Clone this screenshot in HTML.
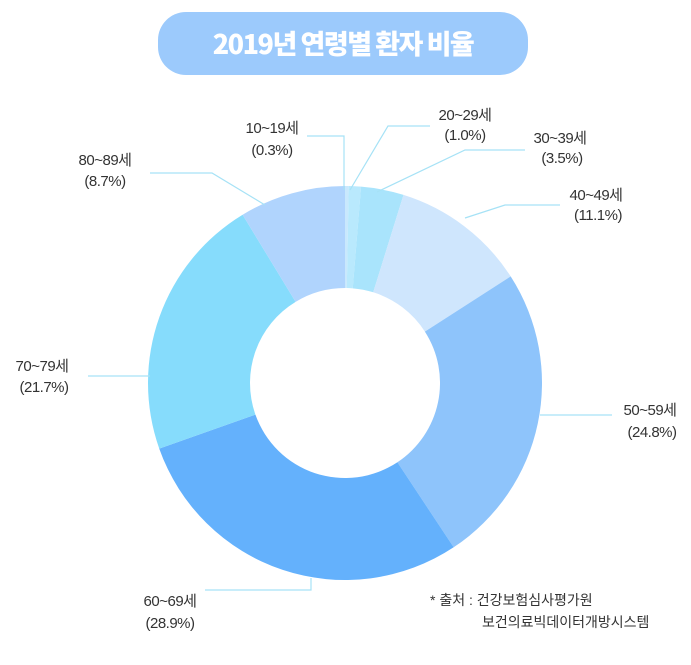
<!DOCTYPE html>
<html><head><meta charset="utf-8"><style>
body{margin:0;background:#fff;width:691px;height:660px;overflow:hidden;font-family:"Liberation Sans","Noto Sans CJK KR",sans-serif;}
</style></head><body>
<svg width="691" height="660" xmlns="http://www.w3.org/2000/svg" font-family="Liberation Sans, Noto Sans CJK KR, sans-serif">
<rect x="158" y="12" width="370" height="63" rx="28" fill="#9ccafc"/>
<text x="343" y="54" text-anchor="middle" font-size="27" font-weight="900" fill="#fff" font-family="Noto Sans CJK KR, sans-serif" letter-spacing="-1.5">2019년 연령별 환자 비율</text>
<g id="d"></g>
<g stroke="#a6e2f6" stroke-width="1.2" fill="none">
<polyline points="344,190 344,136 307,136"/>
<polyline points="350,190 388,126 430,126"/>
<polyline points="377,192 465,150 525,150"/>
<polyline points="465,218 505,205 560,205"/>
<polyline points="540,415 612,415"/>
<polyline points="311,578 311,590 205,590"/>
<polyline points="150,376 88,376"/>
<polyline points="265,205 212,173 150,173"/>
</g>
<g font-size="15" fill="#333" text-anchor="middle" letter-spacing="-0.5">
<text x="272" y="133">10~19세</text><text x="272" y="155">(0.3%)</text>
<text x="465" y="120">20~29세</text><text x="465" y="140">(1.0%)</text>
<text x="560" y="143">30~39세</text><text x="562" y="163">(3.5%)</text>
<text x="596" y="200">40~49세</text><text x="598" y="220">(11.1%)</text>
<text x="650" y="415">50~59세</text><text x="652" y="437">(24.8%)</text>
<text x="170" y="606">60~69세</text><text x="170" y="628">(28.9%)</text>
<text x="42" y="371">70~79세</text><text x="44" y="392">(21.7%)</text>
<text x="105" y="165">80~89세</text><text x="105" y="186">(8.7%)</text>
</g>
<g font-size="14" fill="#333">
<text x="430" y="605">* 출처 : 건강보험심사평가원</text>
<text x="482" y="627">보건의료빅데이터개방시스템</text>
</g>
</svg>
<script>
var cx=345,cy=383,R=197,r=95;
var d=[[0.3,"#c9e8fd"],[1.0,"#b9e9fd"],[3.5,"#a9e4fc"],[11.1,"#cfe6fd"],[24.8,"#8ec4fb"],[28.9,"#64b1fc"],[21.7,"#86dcfc"],[8.7,"#b0d4fd"]];
var a=0,g=document.getElementById("d"),s="";
function p(rr,t){var x=cx+rr*Math.sin(t),y=cy-rr*Math.cos(t);return x.toFixed(2)+","+y.toFixed(2);}
d.forEach(function(e){var a0=a/100*2*Math.PI;a+=e[0];var a1=a/100*2*Math.PI;var l=(a1-a0)>Math.PI?1:0;
s+='<path fill="'+e[1]+'" d="M'+p(R,a0)+' A'+R+','+R+' 0 '+l+' 1 '+p(R,a1)+' L'+p(r,a1)+' A'+r+','+r+' 0 '+l+' 0 '+p(r,a0)+' Z"/>';});
g.innerHTML=s;
</script>
</body></html>
